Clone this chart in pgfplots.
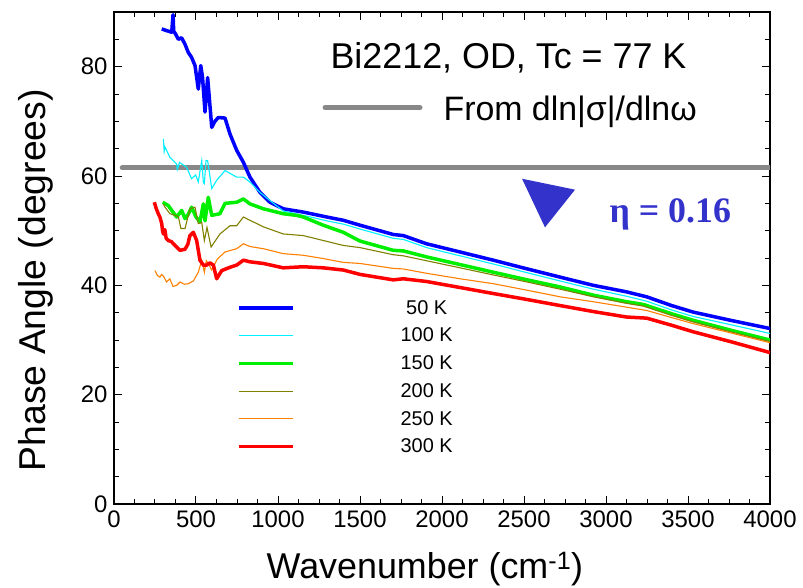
\documentclass[border=0pt]{standalone}
\usepackage{fontspec}
\setmainfont{Liberation Sans}
\newfontfamily\timesfont{Liberation Serif}
\usepackage{pgfplots}
\pgfplotsset{compat=1.18}
\definecolor{c50}{RGB}{0,0,255}
\definecolor{c100}{RGB}{0,240,255}
\definecolor{c150}{RGB}{0,238,0}
\definecolor{c200}{RGB}{128,128,0}
\definecolor{c250}{RGB}{255,128,0}
\definecolor{c300}{RGB}{255,0,0}
\definecolor{cgray}{RGB}{136,136,136}
\definecolor{etablue}{RGB}{51,51,204}
\begin{document}
\begin{tikzpicture}
\begin{axis}[
  at={(0,0)}, anchor=south west,
  scale only axis, width=656bp, height=492bp,
  xmin=0, xmax=4000, ymin=0, ymax=90,
  xtick={0,500,...,4000}, ytick={0,20,...,80},
  minor xtick={0,125,...,4000}, minor ytick={0,5,...,90},
  tick align=inside, major tick length=8bp, minor tick length=5bp,
  every tick/.style={black, line width=1bp},
  axis line style={line width=1.6bp},
  tick label style={font=\fontsize{24}{28}\selectfont},
  /pgf/number format/assume math mode=true,
  scaled x ticks=false, /pgf/number format/1000 sep={},
  xticklabel style={yshift=-3bp},
  yticklabel style={xshift=-3bp},
  xlabel={Wavenumber (cm\textsuperscript{-1})},
  ylabel={Phase Angle (degrees)},
  xlabel style={font=\fontsize{36}{40}\selectfont, at={(axis description cs:0.474,0)}, anchor=base, yshift=-74bp},
  ylabel style={font=\fontsize{37.5}{42}\selectfont, at={(axis description cs:-0.105,0.455)}, anchor=base},
  legend style={at={(axis cs:750,37.3)}, anchor=north west, draw=none, fill=none,
    inner sep=0pt, row sep=12.3bp, font=\fontsize{20}{24}\selectfont, nodes={inner sep=0pt}},
  legend image code/.code={\draw[#1] (0bp,0bp) -- (54bp,0bp);},
  legend cell align=left,
]
\addplot[cgray, line width=5bp, line cap=round, forget plot] coordinates {(50,61.5) (4000,61.5)};
\addplot[cgray, line width=5bp, line cap=round, forget plot] coordinates {(1287,72.5) (1866,72.5)};
\addplot[etablue, fill=etablue, draw=none, forget plot] coordinates {(2488,59.5) (2811,57.5) (2628,50.6)};

\addplot[c50, line width=3.5bp, line join=round] coordinates {
(291,86.9) (320,86.6) (352,86.3) (360,89.5) (364,86.5) (375,86.0) (392,85.0) (412,85.3) (433,84.1) (453,82.6) (473,81.7) (494,80.2) (514,75.9) (529,80.2) (540,78) (555,71.7) (571,78.0) (596,68.9) (615,70.0) (636,70.7) (677,70.6) (707,67.7) (748,64.7) (789,62.5) (829,59.8) (890,57.0) (951,55.2) (1032,54.0) (1154,53.4) (1297,52.5) (1398,51.9) (1500,51.0) (1703,49.3) (1764,49.1) (1906,47.6) (2110,46.1) (2313,44.6) (2520,43.0) (2720,41.5) (2923,40.0) (3126,38.8) (3248,37.9) (3400,36.3) (3532,35.1) (3760,33.6) (4000,32.1)};
\addlegendentry{\makebox[264bp][c]{50 K}}
\addplot[c100, line width=1.1bp] coordinates {
(301,66.8) (306,64.5) (311,65.3) (341,63.4) (382,62.2) (386,61.2) (400,62.5) (413,62.2) (443,61.6) (473,59.5) (498,60.2) (514,58.9) (525,61) (535,62.8) (545,58.8) (551,58.6) (561,62.8) (571,62.8) (596,57.7) (626,59.2) (677,61.0) (748,59.8) (789,59.8) (829,58.9) (890,57.0) (951,55.5) (1032,53.6) (1154,52.8) (1297,51.8) (1398,51.2) (1500,50.3) (1703,48.6) (1764,48.4) (1906,46.9) (2110,45.4) (2313,43.9) (2520,42.3) (2720,40.8) (2923,39.3) (3126,38.0) (3248,37.1) (3400,35.5) (3532,34.3) (3760,32.8) (4000,31.2)};
\addlegendentry{\makebox[264bp][c]{100 K}}
\addplot[c150, line width=3.5bp, line join=round] coordinates {
(297,55.2) (331,54.6) (352,53.7) (382,52.5) (413,53.7) (433,52.2) (453,53.0) (473,54.3) (500,52.5) (524,51.6) (545,54.9) (555,51.8) (575,56.1) (596,52.8) (646,53.1) (677,55.0) (748,55.2) (789,55.8) (829,54.9) (911,54.0) (1032,53.1) (1113,52.8) (1154,52.5) (1276,51.0) (1398,49.7) (1500,48.1) (1703,46.4) (1764,46.3) (1906,45.2) (2110,43.8) (2313,42.4) (2520,41.0) (2720,39.7) (2923,38.2) (3126,37.0) (3228,36.5) (3400,34.8) (3532,33.6) (3760,31.8) (4000,30.0)};
\addlegendentry{\makebox[264bp][c]{150 K}}
\addplot[c200, line width=1.1bp] coordinates {
(301,54.9) (311,54.3) (341,53.1) (392,52.6) (408,50.4) (433,50.4) (463,54.0) (494,54.3) (514,51.3) (535,51.5) (551,48.2) (567,50.6) (592,47.0) (646,49.4) (707,50.9) (748,50.9) (789,52.5) (829,51.9) (911,50.7) (1032,49.4) (1154,49.1) (1276,48.2) (1398,47.3) (1500,46.9) (1703,45.6) (1764,45.4) (1906,44.5) (2110,43.2) (2313,41.9) (2520,40.6) (2720,39.3) (2923,37.9) (3126,36.7) (3228,36.2) (3400,34.5) (3532,33.3) (3760,31.5) (4000,29.7)};
\addlegendentry{\makebox[264bp][c]{200 K}}
\addplot[c250, line width=1.1bp] coordinates {
(250,42.7) (265,41.8) (280,41.5) (290,42) (301,41.7) (321,40.6) (340,41.2) (360,39.8) (382,40.0) (402,40.6) (430,40.2) (453,40.3) (484,40.8) (514,42.4) (535,44.6) (551,42.4) (563,44.5) (575,44.0) (596,42.8) (630,44.8) (677,46.1) (748,46.7) (789,47.6) (829,47.1) (911,46.7) (1032,45.8) (1154,45.5) (1276,44.9) (1398,44.2) (1500,44.0) (1703,43.1) (1764,43.0) (1906,42.2) (2110,41.2) (2313,40.3) (2520,39.1) (2720,37.9) (2923,37.0) (3126,36.0) (3248,35.4) (3400,34.1) (3532,33.0) (3760,31.3) (4000,29.5)};
\addlegendentry{\makebox[264bp][c]{250 K}}
\addplot[c300, line width=3.5bp, line join=round] coordinates {
(246,55.2) (258,54) (270,53.1) (280,52.5) (291,51.3) (296,50) (301,49.4) (310,50.2) (318,48.6) (331,48.2) (350,48.0) (372,47.3) (402,46.4) (433,46.6) (450,47.5) (463,49.1) (484,49.7) (504,48.2) (524,44.6) (545,43.7) (565,43.7) (585,44.1) (606,43.7) (626,41.2) (657,42.7) (707,43.3) (748,43.7) (789,44.6) (829,44.3) (911,44.0) (1032,43.2) (1154,43.4) (1276,43.2) (1398,42.8) (1500,42.0) (1703,41.0) (1764,41.2) (1906,40.7) (2110,39.6) (2313,38.5) (2520,37.4) (2720,36.3) (2923,35.2) (3126,34.2) (3248,34.0) (3400,32.7) (3532,31.5) (3760,29.7) (4000,27.7)};
\addlegendentry{\makebox[264bp][c]{300 K}}

\node[anchor=base west, font=\fontsize{36}{40}\selectfont] at (axis cs:1299,79.6) {Bi2212, OD, Tc = 77 K};
\node[anchor=base west, font=\fontsize{34}{38}\selectfont] at (axis cs:1988,70.1) {From dln|σ|/dlnω};
\node[anchor=base west, text=etablue, font=\timesfont\bfseries\fontsize{36}{40}\selectfont] at (axis cs:3000,51.5) {η = 0.16};
\end{axis}
\pgfresetboundingbox
\path[use as bounding box] (-114bp,-84bp) rectangle (689bp,504bp);
\end{tikzpicture}
\end{document}
